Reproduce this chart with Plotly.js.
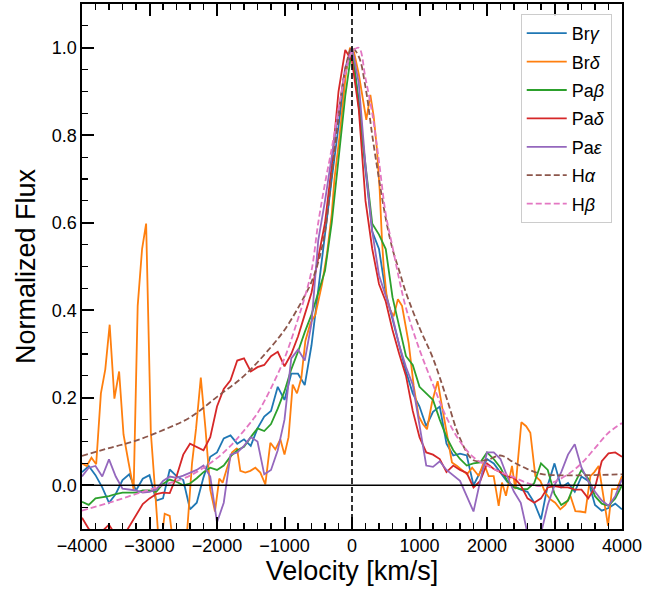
<!DOCTYPE html>
<html>
<head>
<meta charset="utf-8">
<script src="https://cdn.plot.ly/plotly-3.0.1.min.js"></script>
<style>html,body{margin:0;padding:0;background:#fff;}#chart{width:663px;height:590px;}</style>
</head>
<body>
<div id="chart"></div>
<script>
// Common velocity grid (km/s) for Brγ, Paβ, Paδ, Paε
const velocity = [-4000,-3900,-3800,-3700,-3600,-3500,-3400,-3300,-3200,-3100,
  -3000,-2900,-2800,-2700,-2600,-2500,-2400,-2300,-2200,-2100,
  -2000,-1900,-1800,-1700,-1600,-1500,-1400,-1300,-1200,-1100,
  -1000,-900,-800,-700,-600,-500,-400,-300,-200,-100,
  0,100,200,300,400,500,600,700,800,900,
  1000,1100,1200,1300,1400,1500,1600,1700,1800,1900,
  2000,2100,2200,2300,2400,2500,2600,2700,2800,2900,
  3000,3100,3200,3300,3400,3500,3600,3700,3800,3900,4000];

const fluxBrg = [0.030,0.044,0.023,-0.005,-0.040,-0.020,0.012,0.025,-0.012,0.015,
  0.023,-0.035,-0.030,0.036,0.021,0.012,-0.055,-0.040,0.018,0.065,
  0.075,0.107,0.114,0.095,0.105,0.090,0.130,0.157,0.170,0.225,
  0.195,0.255,0.255,0.229,0.320,0.450,0.580,0.700,0.820,0.940,
  1.000,0.880,0.720,0.580,0.540,0.440,0.380,0.320,0.260,0.210,
  0.180,0.135,0.168,0.180,0.095,0.068,0.072,0.068,0.000,0.030,
  0.060,0.050,0.030,0.008,-0.002,-0.010,-0.015,-0.040,-0.078,0.000,
  0.050,-0.005,0.005,-0.015,0.020,0.010,-0.045,-0.058,-0.052,-0.042,-0.055];

const fluxPab = [-0.038,-0.045,-0.030,-0.028,-0.025,-0.020,-0.017,-0.017,-0.017,-0.012,
  -0.012,-0.015,0.003,0.013,0.008,0.000,0.004,0.016,0.030,0.040,
  0.035,0.045,0.066,0.080,0.088,0.110,0.130,0.124,0.140,0.175,
  0.215,0.265,0.305,0.350,0.390,0.440,0.490,0.600,0.745,0.890,
  1.000,0.865,0.727,0.598,0.573,0.540,0.430,0.360,0.295,0.275,
  0.225,0.210,0.195,0.150,0.110,0.080,0.060,0.045,0.050,0.052,
  0.075,0.060,0.040,0.010,-0.005,-0.009,-0.009,0.005,0.050,0.035,
  -0.020,-0.045,-0.035,0.005,0.035,0.015,-0.025,-0.042,-0.047,-0.030,0.000];

const fluxPad = [-0.074,-0.100,-0.110,-0.105,-0.090,-0.115,-0.120,-0.095,-0.070,-0.043,
  -0.030,-0.020,-0.017,-0.018,0.020,0.070,0.095,0.088,0.080,0.110,
  0.180,0.220,0.240,0.285,0.290,0.260,0.270,0.275,0.295,0.305,
  0.272,0.300,0.340,0.390,0.440,0.520,0.600,0.730,0.900,0.995,
  0.970,0.860,0.650,0.540,0.460,0.420,0.355,0.300,0.250,0.170,
  0.110,0.075,0.070,0.060,0.030,0.045,0.035,0.028,-0.005,0.010,
  0.050,0.037,0.030,0.020,0.017,0.000,-0.030,-0.040,-0.030,-0.005,
  -0.002,-0.005,-0.005,-0.010,-0.010,-0.030,-0.005,0.055,0.073,0.075,0.065];

const fluxPae = [0.020,0.040,0.044,0.020,0.059,0.020,-0.008,-0.010,-0.012,-0.017,
  -0.015,-0.010,0.010,0.020,0.017,0.022,0.029,0.035,0.045,0.020,
  -0.085,-0.040,0.070,0.075,0.090,0.110,0.100,0.025,0.035,0.080,
  0.150,0.290,0.310,0.285,0.370,0.560,0.650,0.750,0.860,0.955,
  1.000,0.920,0.730,0.580,0.480,0.435,0.385,0.320,0.270,0.230,
  0.140,0.045,0.042,0.055,0.035,0.022,0.010,-0.025,-0.060,0.010,
  0.075,0.075,0.060,0.020,-0.015,-0.040,-0.110,-0.130,-0.110,-0.045,
  0.000,0.030,0.070,0.094,0.040,0.010,-0.015,-0.035,-0.047,-0.025,0.014];

// Brδ has its own sampling
const velBrd = [-4000,-3930,-3860,-3790,-3720,-3655,-3590,-3520,-3450,-3385,-3310,-3235,-3175,-3110,-3050,-2980,-2915,-2850,-2775,-2700,
  -2630,-2560,-2500,-2440,-2370,-2310,-2240,-2170,-2100,-2030,-1966,-1916,-1850,-1778,-1704,-1654,-1580,-1506,-1432,-1358,
  -1284,-1210,-1136,-1062,-1000,-940,-879,-815,-751,-691,-617,-543,-444,-370,-300,-260,-183,-84,-30,30,
  100,173,212,272,321,370,410,444,469,519,568,617,680,741,790,840,914,988,1050,1111,
  1185,1269,1333,1407,1481,1556,1630,1704,1780,1877,1951,2025,2099,2173,2222,2281,2370,2420,2509,2580,
  2642,2716,2790,2864,2938,3010,3086,3160,3235,3309,3380,3457,3531,3590,3654,3720,3793,3852,3926,4000];
const fluxBrd = [0.05,0.044,0.063,0.048,0.21,0.265,0.367,0.198,0.26,0.116,0.052,-0.01,0.41,0.54,0.598,0.12,-0.017,-0.16,-0.065,-0.07,
  -0.16,-0.2,-0.16,-0.1,0.05,0.13,0.246,0.128,-0.01,-0.06,0.015,0.006,0.04,0.075,0.085,0.033,0.029,0.033,0.04,0.029,
  0.002,0.097,0.082,0.105,0.07,0.11,0.23,0.21,0.245,0.33,0.37,0.39,0.46,0.53,0.62,0.7,0.8,0.95,1.0,0.99,
  0.94,0.865,0.835,0.892,0.843,0.767,0.675,0.561,0.5,0.424,0.40,0.386,0.425,0.41,0.37,0.325,0.227,0.158,0.14,0.128,
  0.189,0.238,0.181,0.12,0.052,0.044,0.035,0.025,0.04,0.021,0.052,0.021,0.021,-0.047,0.006,-0.024,0.044,-0.009,0.144,0.135,
  0.12,0.021,0.01,-0.017,-0.032,-0.04,-0.055,-0.045,-0.024,-0.059,-0.06,-0.062,0.021,0.03,0.044,-0.02,-0.093,-0.009,-0.009,0.021];

// Hα and Hβ (smooth profiles)
const velHa = [-4000,-3600,-3200,-2800,-2400,-2000,-1600,-1200,-1000,-800,-600,-500,-400,-300,-200,-100,0,100,200,300,
  400,500,600,700,800,1000,1200,1400,1600,1800,2000,2200,2400,2600,2800,3000,3500,4000];
const fluxHa = [0.067,0.085,0.102,0.126,0.155,0.202,0.25,0.316,0.355,0.405,0.465,0.51,0.58,0.71,0.84,0.95,1.0,0.98,0.91,0.80,
  0.70,0.61,0.54,0.49,0.44,0.36,0.29,0.2,0.107,0.057,0.058,0.068,0.052,0.037,0.026,0.023,0.023,0.025];

const velHb = [-4000,-3600,-3200,-2800,-2400,-2000,-1800,-1600,-1400,-1200,-1000,-800,-700,-600,-500,-400,-300,-200,-100,0,
  100,200,300,400,500,600,700,800,1000,1200,1400,1600,1800,2000,2200,2400,2600,2800,3000,3200,
  3400,3600,3800,4000];
const fluxHb = [-0.058,-0.04,-0.02,0.0,0.022,0.062,0.09,0.125,0.165,0.222,0.29,0.38,0.43,0.49,0.6,0.69,0.77,0.86,0.94,0.99,
  1.0,0.93,0.85,0.74,0.62,0.545,0.47,0.405,0.31,0.23,0.155,0.1,0.064,0.045,0.03,0.018,0.005,-0.002,0.008,0.025,
  0.05,0.085,0.12,0.142];

const labels = ['Br<i>γ</i>','Br<i>δ</i>','Pa<i>β</i>','Pa<i>δ</i>','Pa<i>ε</i>','H<i>α</i>','H<i>β</i>'];
const colors = ['#1f77b4','#ff7f0e','#2ca02c','#d62728','#9467bd','#8c564b','#e377c2'];
const xTicks = [-4000,-3000,-2000,-1000,0,1000,2000,3000,4000];
const yTicks = [0.0,0.2,0.4,0.6,0.8,1.0];

const FONT = 'Liberation Sans, Arial, Helvetica, sans-serif';
const seriesX = [velocity, velBrd, velocity, velocity, velocity, velHa, velHb];
const seriesY = [fluxBrg, fluxBrd, fluxPab, fluxPad, fluxPae, fluxHa, fluxHb];

const traces = seriesY.map((ys, i) => ({
  x: seriesX[i], y: ys, type: 'scatter', mode: 'lines',
  name: labels[i], legendgroup: 'g' + i,
  line: {color: colors[i], width: 1.8, dash: i >= 5 ? '6px,3px' : 'solid', shape: i >= 5 ? 'spline' : 'linear'}
}));

const layout = {
  width: 663, height: 590,
  margin: {l: 82, r: 41, t: 4, b: 61},
  paper_bgcolor: '#fff', plot_bgcolor: '#fff',
  font: {family: FONT, color: '#000', size: 18},
  showlegend: true,
  legend: {x: 0.981, y: 0.981, xanchor: 'right', yanchor: 'top',
    bgcolor: 'rgba(255,255,255,0.85)', bordercolor: '#cccccc', borderwidth: 1,
    font: {family: FONT, size: 18, color: '#000'}, tracegroupgap: 2, itemwidth: 40},
  xaxis: {
    range: [-4000, 4000], tickvals: xTicks, ticks: 'inside', ticklen: 12, tickwidth: 2,
    tickcolor: '#000', showline: true, linecolor: '#000', linewidth: 1.6, mirror: 'ticks',
    showgrid: false, zeroline: false, tickfont: {size: 18},
    minor: {dtick: 200, ticks: 'inside', ticklen: 6, tickwidth: 1.2, tickcolor: '#000', showgrid: false},
    title: {text: 'Velocity [km/s]', font: {size: 27}, standoff: 4}
  },
  yaxis: {
    range: [-0.1, 1.1], tickvals: yTicks, tickformat: '.1f', ticks: 'inside', ticklen: 12, tickwidth: 2,
    tickcolor: '#000', showline: true, linecolor: '#000', linewidth: 1.6, mirror: true,
    showgrid: false, zeroline: false, tickfont: {size: 18},
    minor: {dtick: 0.05, ticks: 'inside', ticklen: 6, tickwidth: 1.2, tickcolor: '#000', showgrid: false},
    title: {text: 'Normalized Flux', font: {size: 27}, standoff: 8}
  },
  shapes: [
    {type: 'line', xref: 'x', yref: 'paper', x0: 0, x1: 0, y0: 0, y1: 1, layer: 'above',
     line: {color: '#000', width: 1.6, dash: '6px,3px'}},
    {type: 'line', xref: 'paper', yref: 'y', x0: 0, x1: 1, y0: 0, y1: 0, layer: 'above',
     line: {color: '#000', width: 1.6}}
  ]
};

Plotly.newPlot('chart', traces, layout, {displayModeBar: false, staticPlot: true});
</script>
</body>
</html>
